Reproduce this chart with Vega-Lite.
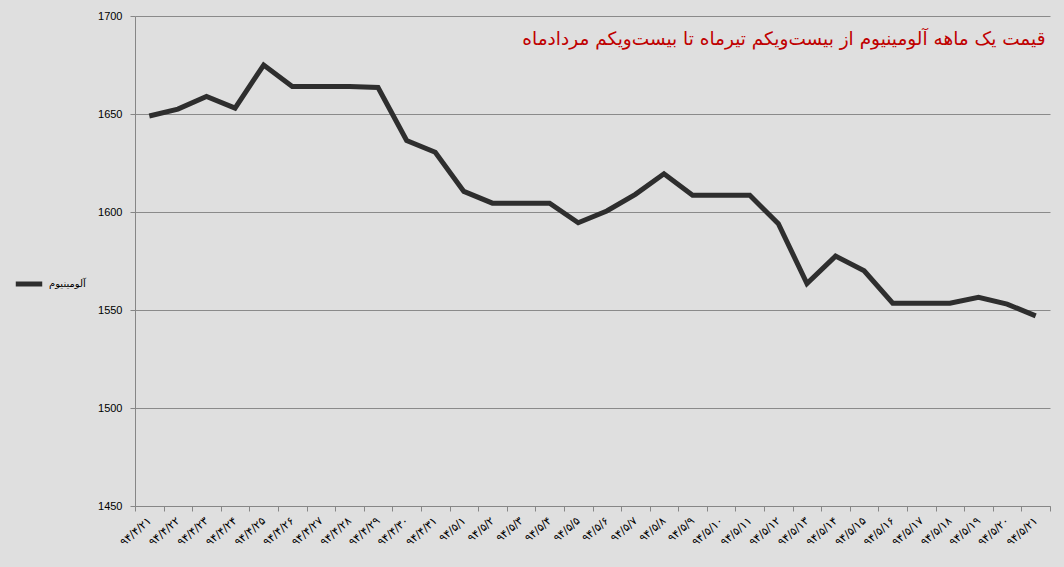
{
  "$schema": "https://vega.github.io/schema/vega-lite/v6.json",
  "width": 915,
  "height": 490,
  "autosize": "none",
  "padding": {"left": 135, "top": 16, "right": 14, "bottom": 61},
  "background": "#dfdfdf",
  "config": {
    "view": {"stroke": null, "fill": "#dfdfdf"},
    "font": "DejaVu Sans"
  },
  "title": {
    "text": "قیمت یک ماهه آلومینیوم از بیست‌ویکم تیرماه تا بیست‌ویکم مردادماه",
    "anchor": "end",
    "orient": "top",
    "offset": -38,
    "dx": -5,
    "color": "#c00000",
    "fontSize": 18.5,
    "fontWeight": "normal",
    "font": "DejaVu Sans"
  },
  "data": {
    "values": [
      {"date": "۹۴/۴/۲۱", "price": 1649, "series": "آلومینیوم"},
      {"date": "۹۴/۴/۲۲", "price": 1652.5, "series": "آلومینیوم"},
      {"date": "۹۴/۴/۲۳", "price": 1659, "series": "آلومینیوم"},
      {"date": "۹۴/۴/۲۴", "price": 1653, "series": "آلومینیوم"},
      {"date": "۹۴/۴/۲۵", "price": 1675, "series": "آلومینیوم"},
      {"date": "۹۴/۴/۲۶", "price": 1664, "series": "آلومینیوم"},
      {"date": "۹۴/۴/۲۷", "price": 1664, "series": "آلومینیوم"},
      {"date": "۹۴/۴/۲۸", "price": 1664, "series": "آلومینیوم"},
      {"date": "۹۴/۴/۲۹", "price": 1663.5, "series": "آلومینیوم"},
      {"date": "۹۴/۴/۳۰", "price": 1636.5, "series": "آلومینیوم"},
      {"date": "۹۴/۴/۳۱", "price": 1630.5, "series": "آلومینیوم"},
      {"date": "۹۴/۵/۱", "price": 1610.5, "series": "آلومینیوم"},
      {"date": "۹۴/۵/۲", "price": 1604.5, "series": "آلومینیوم"},
      {"date": "۹۴/۵/۳", "price": 1604.5, "series": "آلومینیوم"},
      {"date": "۹۴/۵/۴", "price": 1604.5, "series": "آلومینیوم"},
      {"date": "۹۴/۵/۵", "price": 1594.5, "series": "آلومینیوم"},
      {"date": "۹۴/۵/۶", "price": 1600.5, "series": "آلومینیوم"},
      {"date": "۹۴/۵/۷", "price": 1609, "series": "آلومینیوم"},
      {"date": "۹۴/۵/۸", "price": 1619.5, "series": "آلومینیوم"},
      {"date": "۹۴/۵/۹", "price": 1608.5, "series": "آلومینیوم"},
      {"date": "۹۴/۵/۱۰", "price": 1608.5, "series": "آلومینیوم"},
      {"date": "۹۴/۵/۱۱", "price": 1608.5, "series": "آلومینیوم"},
      {"date": "۹۴/۵/۱۲", "price": 1594, "series": "آلومینیوم"},
      {"date": "۹۴/۵/۱۳", "price": 1563.5, "series": "آلومینیوم"},
      {"date": "۹۴/۵/۱۴", "price": 1577.5, "series": "آلومینیوم"},
      {"date": "۹۴/۵/۱۵", "price": 1570, "series": "آلومینیوم"},
      {"date": "۹۴/۵/۱۶", "price": 1553.5, "series": "آلومینیوم"},
      {"date": "۹۴/۵/۱۷", "price": 1553.5, "series": "آلومینیوم"},
      {"date": "۹۴/۵/۱۸", "price": 1553.5, "series": "آلومینیوم"},
      {"date": "۹۴/۵/۱۹", "price": 1556.5, "series": "آلومینیوم"},
      {"date": "۹۴/۵/۲۰", "price": 1553, "series": "آلومینیوم"},
      {"date": "۹۴/۵/۲۱", "price": 1547, "series": "آلومینیوم"}
    ]
  },
  "mark": {"type": "line", "strokeWidth": 5, "strokeJoin": "miter", "strokeCap": "butt"},
  "encoding": {
    "x": {
      "field": "date",
      "type": "ordinal",
      "sort": null,
      "scale": {"paddingInner": 0, "paddingOuter": 0},
      "axis": {
        "title": null,
        "tickBand": "extent",
        "labelAngle": -42,
        "labelAlign": "right",
        "labelBaseline": "middle",
        "labelFontSize": 11,
        "labelColor": "#000000",
        "labelPadding": 8,
        "tickSize": 5,
        "tickColor": "#868686",
        "domainColor": "#868686",
        "grid": false,
        "labelFont": "DejaVu Sans"
      }
    },
    "y": {
      "field": "price",
      "type": "quantitative",
      "scale": {"domain": [1450, 1700], "nice": false, "zero": false},
      "axis": {
        "title": null,
        "format": "d",
        "values": [1450, 1500, 1550, 1600, 1650, 1700],
        "labelFontSize": 11,
        "labelColor": "#000000",
        "labelPadding": 8,
        "tickSize": 5,
        "tickColor": "#868686",
        "domainColor": "#868686",
        "gridColor": "#8a8a8a",
        "gridOpacity": 1,
        "labelFont": "Liberation Sans"
      }
    },
    "color": {
      "field": "series",
      "type": "nominal",
      "scale": {"range": ["#2e2e2e"]},
      "legend": {
        "title": null,
        "orient": "none",
        "legendX": -122,
        "legendY": 252,
        "symbolType": "stroke",
        "symbolStrokeWidth": 5,
        "symbolSize": 700,
        "labelFontSize": 10,
        "labelColor": "#000000",
        "labelFont": "DejaVu Sans"
      }
    }
  }
}
